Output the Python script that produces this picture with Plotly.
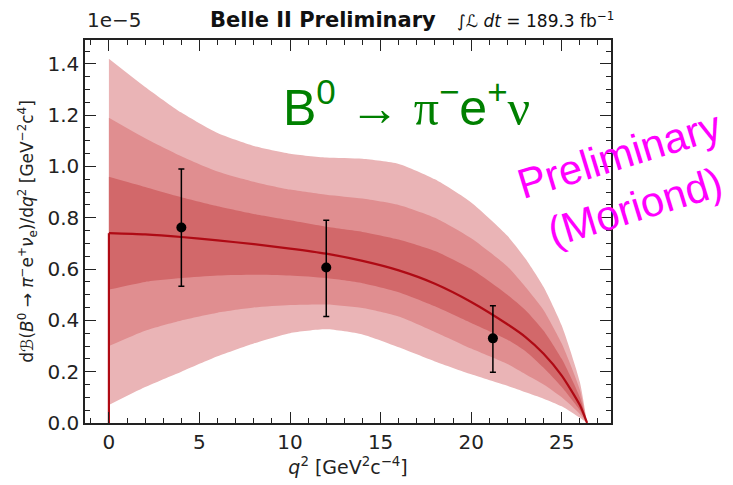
import plotly.graph_objects as go

# ---------------- data (units of 1e-5 GeV^-2 c^4) ----------------
q2 = [0, 2, 4, 6, 8, 10, 12, 14, 16, 18, 20, 22, 23, 24, 25, 26, 26.4]
central = [0.74, 0.735, 0.725, 0.712, 0.697, 0.68, 0.66, 0.632, 0.595, 0.543, 0.472, 0.385, 0.335, 0.27, 0.185, 0.07, 0.0]
inner_lo = [0.52, 0.55, 0.565, 0.575, 0.578, 0.575, 0.565, 0.545, 0.51, 0.455, 0.39, 0.325, 0.28, 0.215, 0.14, 0.05, 0.0]
inner_hi = [0.96, 0.92, 0.88, 0.845, 0.815, 0.79, 0.765, 0.745, 0.715, 0.67, 0.60, 0.50, 0.44, 0.36, 0.25, 0.10, 0.0]
mid_lo = [0.30, 0.36, 0.40, 0.43, 0.45, 0.46, 0.462, 0.448, 0.415, 0.355, 0.29, 0.23, 0.19, 0.15, 0.10, 0.035, 0.0]
mid_hi = [1.19, 1.11, 1.04, 0.98, 0.94, 0.91, 0.89, 0.875, 0.85, 0.80, 0.72, 0.61, 0.53, 0.44, 0.31, 0.13, 0.0]
outer_lo = [0.07, 0.14, 0.20, 0.26, 0.31, 0.35, 0.365, 0.345, 0.295, 0.24, 0.19, 0.145, 0.12, 0.095, 0.065, 0.02, 0.0]
outer_hi = [1.42, 1.31, 1.21, 1.13, 1.08, 1.05, 1.035, 1.03, 1.01, 0.95, 0.86, 0.73, 0.64, 0.53, 0.38, 0.16, 0.0]

pts_q2 = [4.0, 12.0, 21.2]
pts_val = [0.762, 0.606, 0.330]
pts_err_hi = [0.228, 0.184, 0.127]
pts_err_lo = [0.229, 0.191, 0.132]

x_ticks = [0, 5, 10, 15, 20, 25]
y_ticks = [0.0, 0.2, 0.4, 0.6, 0.8, 1.0, 1.2, 1.4]
x_range = [-1.32, 27.72]
y_range = [0, 1.493]

# ---------------- figure ----------------
fig = go.Figure()

bands = [
    (outer_lo, outer_hi, "rgb(234,180,182)"),
    (mid_lo, mid_hi, "rgb(224,142,144)"),
    (inner_lo, inner_hi, "rgb(210,104,106)"),
]
for lo, hi, col in bands:
    xs = q2 + q2[::-1]
    ys = hi + lo[::-1]
    fig.add_trace(go.Scatter(x=xs, y=ys, fill="toself", fillcolor=col,
                             line=dict(width=0, color=col, shape="spline", smoothing=0.6),
                             mode="lines", hoverinfo="skip", showlegend=False))

line_col = "rgb(175,10,20)"
# vertical drop of the curve at q2 = 0
fig.add_trace(go.Scatter(x=[q2[0], q2[0]], y=[0, central[0]], mode="lines",
                         line=dict(color=line_col, width=2.2), showlegend=False))
fig.add_trace(go.Scatter(x=q2, y=central, mode="lines",
                         line=dict(color=line_col, width=2.2, shape="spline", smoothing=0.6),
                         showlegend=False))

fig.add_trace(go.Scatter(x=pts_q2, y=pts_val, mode="markers",
                         marker=dict(color="black", size=10),
                         error_y=dict(type="data", array=pts_err_hi, arrayminus=pts_err_lo,
                                      color="black", thickness=1.5, width=3),
                         showlegend=False))

# invisible trace for mirrored (top/right) axes
fig.add_trace(go.Scatter(x=[x_range[0]], y=[y_range[0]], xaxis="x2", yaxis="y2",
                         mode="markers", marker=dict(opacity=0), hoverinfo="skip", showlegend=False))

ink = "#222"
tick_common = dict(ticks="inside", ticklen=11, tickwidth=1.3, tickcolor=ink,
                   showgrid=False, zeroline=False)
line_common = dict(showline=True, linecolor=ink, linewidth=1.5)
tfont = dict(family="DejaVu Sans", size=20, color=ink)

fig.update_layout(
    xaxis=dict(range=x_range, tickvals=x_ticks, tickfont=tfont,
               minor=dict(dtick=1, ticks="inside", ticklen=5, tickwidth=1.1, tickcolor=ink),
               title=dict(text="<i>q</i><sup>2</sup> [GeV<sup>2</sup>c<sup>−4</sup>]",
                          font=dict(family="DejaVu Sans", size=19, color=ink), standoff=6),
               **tick_common, **line_common),
    yaxis=dict(range=y_range, tickvals=y_ticks, tickformat=".1f", tickfont=tfont,
               minor=dict(dtick=0.05, ticks="inside", ticklen=5, tickwidth=1.1, tickcolor=ink),
               title=dict(text="d<i>ℬ</i>(<i>B</i><sup>0</sup> → <i>π</i><sup>−</sup>e<sup>+</sup><i>ν</i><sub>e</sub>)/d<i>q</i><sup>2</sup> [GeV<sup>−2</sup>c<sup>4</sup>]",
                          font=dict(family="DejaVu Sans", size=17, color=ink), standoff=9),
               **tick_common, **line_common),
    xaxis2=dict(range=x_range, tickvals=x_ticks, overlaying="x", side="top", anchor="y2",
                showticklabels=False,
                minor=dict(dtick=1, ticks="inside", ticklen=5, tickwidth=1.1, tickcolor=ink),
                **tick_common, **line_common),
    yaxis2=dict(range=y_range, tickvals=y_ticks, overlaying="y", side="right", anchor="x2",
                showticklabels=False,
                minor=dict(dtick=0.05, ticks="inside", ticklen=5, tickwidth=1.1, tickcolor=ink),
                **tick_common, **line_common),
)

W, H = 733, 485
L, R, T, B = 85, 122, 40, 53
pw, ph = W - L - R, H - T - B

def px(x):
    return (x - L) / pw

def py(y):
    return (H - B - y) / ph

annotations = [
    dict(x=px(85), y=py(20), xanchor="left", yanchor="middle",
         text="1e−5", font=dict(family="DejaVu Sans", size=20, color=ink)),
    dict(x=px(208), y=py(20), xanchor="left", yanchor="middle",
         text="<b>Belle II Preliminary</b>", font=dict(family="DejaVu Sans", size=21, color="#111")),
    dict(x=px(455), y=py(20), xanchor="left", yanchor="middle",
         text="∫<i>ℒ dt</i> = 189.3 fb<sup>−1</sup>", font=dict(family="DejaVu Sans", size=17, color="#111")),
    dict(x=px(406), y=py(106), xanchor="center", yanchor="middle",
         text="B<sup>0</sup> → <span style='font-family:Liberation Serif'>π</span><sup>−</sup>e<sup>+</sup><span style='font-family:Liberation Serif'>ν</span>",
         font=dict(family="Liberation Sans", size=50, color="#008000")),
    dict(x=px(627), y=py(184), xanchor="center", yanchor="middle", textangle=-17,
         text="Preliminary<br>(Moriond)",
         font=dict(family="Liberation Sans", size=42, color="#ff00ff")),
]
for a in annotations:
    a.update(xref="paper", yref="paper", showarrow=False)

fig.update_layout(width=W, height=H, margin=dict(l=L, r=R, t=T, b=B),
                  plot_bgcolor="white", paper_bgcolor="white",
                  annotations=annotations, showlegend=False)

fig.write_html("out.html")
